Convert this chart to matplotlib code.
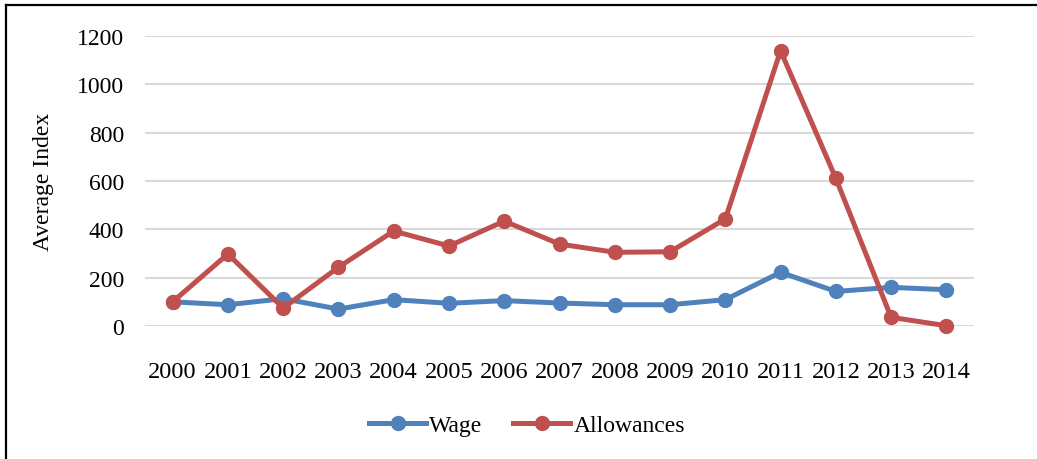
import matplotlib.pyplot as plt
from matplotlib.lines import Line2D

years = ["2000", "2001", "2002", "2003", "2004", "2005", "2006", "2007",
         "2008", "2009", "2010", "2011", "2012", "2013", "2014"]
wage = [100, 88, 113, 70, 109, 94, 105, 95, 88, 88, 109, 222, 143, 160, 150]
allowances = [100, 298, 74, 243, 393, 331, 434, 339, 305, 307, 443, 1139, 611, 36, 1]
yticks = [0, 200, 400, 600, 800, 1000, 1200]

BLUE = "#4F81BD"
RED = "#C0504D"

plt.rcParams["font.family"] = ["Liberation Serif", "DejaVu Serif"]
plt.rcParams["font.size"] = 17

fig = plt.figure(figsize=(10.37, 4.6), dpi=100)
ax = fig.add_axes([145 / 1037, 1 - 327 / 460, 829 / 1037, 290 / 460])

x = list(range(len(years)))
ax.plot(x, wage, color=BLUE, lw=3.6, marker="o", ms=10, label="Wage",
        zorder=3, clip_on=False)
ax.plot(x, allowances, color=RED, lw=3.6, marker="o", ms=10, label="Allowances",
        zorder=3, clip_on=False)

ax.set_xlim(-0.5, len(years) - 0.5)
ax.set_ylim(0, 1200)
ax.set_xticks(x)
ax.set_xticklabels(years, fontsize=17.6)
ax.set_yticks(yticks)
ax.tick_params(axis="both", length=0)
ax.tick_params(axis="x", pad=25)
ax.tick_params(axis="y", pad=15)
ax.grid(axis="y", color="#d9d9d9", lw=1.5)
ax.set_axisbelow(True)
for s in ax.spines.values():
    s.set_visible(False)
ax.set_ylabel("Average Index")
ax.yaxis.set_label_coords(-0.11, 0.5)

ax.legend(loc="center", bbox_to_anchor=(0.5 - 0.039, (327 - 426) / 290), ncol=2,
          frameon=False, handlelength=2.4, columnspacing=1.3, handletextpad=0.15,
          fontsize=17)

# frame lines from the surrounding document box
fig.add_artist(Line2D([6 / 1037, 1], [1 - 6 / 460, 1 - 6 / 460], color="black", lw=1.6))
fig.add_artist(Line2D([6 / 1037, 6 / 1037], [0, 1 - 6 / 460], color="black", lw=1.6))

fig.savefig("out.png", dpi=100)
